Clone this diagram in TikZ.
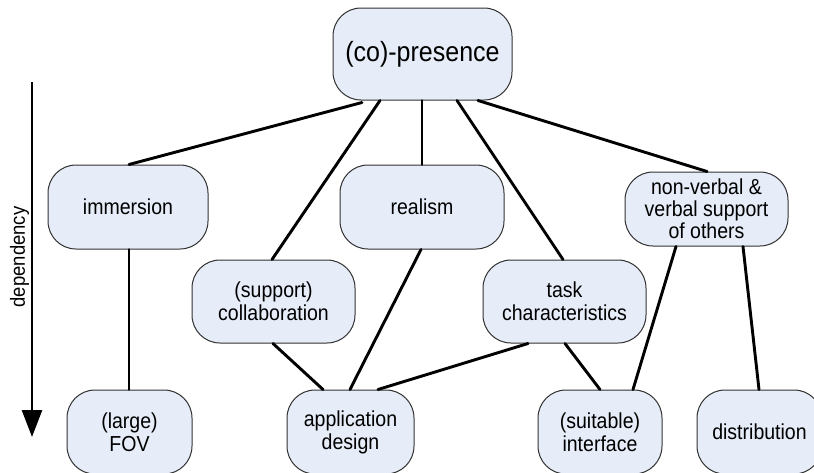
\documentclass[tikz,border=0pt]{standalone}
\usepackage{fontspec}
\setmainfont[FakeStretch=0.9]{Liberation Sans}
\usetikzlibrary{arrows.meta}
\definecolor{boxfill}{RGB}{230,236,248}
\definecolor{boxline}{RGB}{50,50,50}
\tikzset{
  factor/.style={draw=boxline, fill=boxfill, line width=1pt,
    rounded corners=28pt, align=center, inner sep=0pt,
    font=\fontsize{21.7}{23}\selectfont},
  link/.style={line width=2.9pt, line cap=round},
  axis/.style={line width=2.7pt, -{Triangle[length=27pt,width=20pt]}}
}
\begin{document}
\begin{tikzpicture}[x=1pt,y=-1pt]
\useasboundingbox (0,0) rectangle (814,472);

% top level
\node[factor, minimum width=179pt, minimum height=92pt,
      font=\fontsize{27.8}{30}\selectfont] (co) at (422.5,54) {(co)-presence};

% second level
\node[factor, minimum width=160pt, minimum height=84pt] (imm) at (128,207) {immersion};
\node[factor, minimum width=164pt, minimum height=84pt] (real) at (422,207) {realism};
\node[factor, minimum width=163pt, minimum height=74pt,
      font=\fontsize{21.7}{22}\selectfont] (nv) at (706.5,209) {non-verbal \&\\verbal support\\of others};

% third level
\node[factor, minimum width=163pt, minimum height=83pt] (col) at (273.5,301.5) {(support)\\collaboration};
\node[factor, minimum width=163pt, minimum height=83pt] (task) at (564.5,301.5) {task\\characteristics};

% bottom level
\node[factor, minimum width=125pt, minimum height=84pt] (fov) at (129.5,432) {(large)\\FOV};
\node[factor, minimum width=127pt, minimum height=84pt] (app) at (350.5,432) {application\\design};
\node[factor, minimum width=124pt, minimum height=84pt] (intf) at (600,432) {(suitable)\\interface};
\node[factor, minimum width=125pt, minimum height=84pt] (dist) at (759.5,432) {distribution};

% dependencies
\draw[link] ([xshift=-60.5pt,yshift=-2pt]co.south) -- ([xshift=1pt]imm.north);
\draw[link] ([xshift=-42.5pt]co.south) -- ([xshift=-1.5pt]col.north);
\draw[link] ([xshift=-0.5pt]co.south) -- ([xshift=0pt]real.north);
\draw[link] ([xshift=34.5pt]co.south) -- ([xshift=-1.5pt]task.north);
\draw[link] ([xshift=55.5pt]co.south) -- ([xshift=0.5pt]nv.north);
\draw[link] ([xshift=1pt]imm.south) -- ([xshift=-0.5pt]fov.north);
\draw[link] ([xshift=-1pt]real.south) -- ([xshift=-0.5pt]app.north);
\draw[link] ([xshift=-0.5pt]col.south) -- ([xshift=-27.5pt]app.north);
\draw[link] ([xshift=-36.5pt]task.south) -- ([xshift=27.5pt]app.north);
\draw[link] ([xshift=0.5pt]task.south) -- ([xshift=0pt]intf.north);
\draw[link] ([xshift=-30.5pt]nv.south) -- ([xshift=33pt]intf.north);
\draw[link] ([xshift=36.5pt]nv.south) -- ([xshift=-0.5pt]dist.north);

% dependency axis
\coordinate (dtop) at (32,82);
\coordinate (dbot) at (32,437);
\draw[axis] (dtop) -- (dbot);
\node[rotate=90, font=\fontsize{20.5}{22}\selectfont, inner sep=0pt] (dep) at (19.5,257) {dependency};
\end{tikzpicture}
\end{document}
